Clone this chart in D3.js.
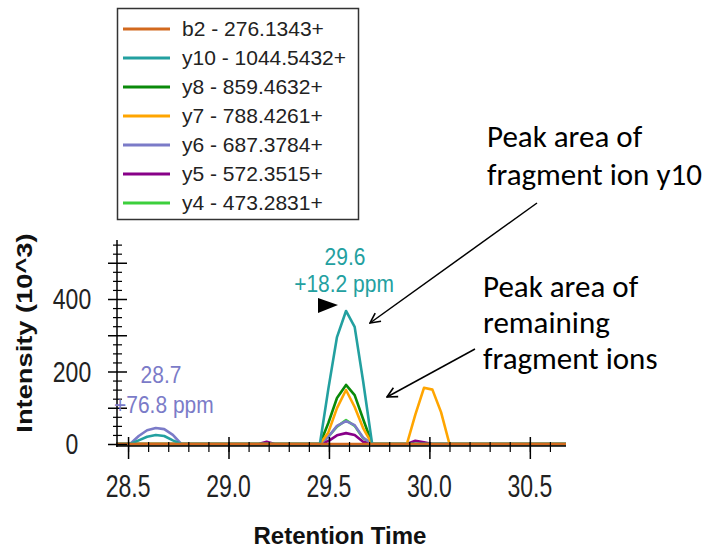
<!DOCTYPE html>
<html>
<head>
<meta charset="utf-8">
<script src="https://cdn.jsdelivr.net/npm/d3@7"></script>
<style>
  body { margin: 0; background: #fff; }
  text { font-family: "Liberation Sans", Arial, sans-serif; }
  .note { font-family: Carlito, Calibri, "Open Sans", sans-serif; }
</style>
</head>
<body>
<div id="chart"></div>
<script>
// Retention times (min) where the traces were sampled
const times = [28.44,
  28.51, 28.553, 28.595, 28.638, 28.68, 28.723, 28.765,
  29.15, 29.19, 29.23,
  29.455, 29.497, 29.54, 29.585, 29.628, 29.67, 29.715,
  29.888, 29.93, 29.973, 30.015, 30.058, 30.1,
  30.68];

// Intensities (10^3) for each fragment ion at those times
const b2  = [0, 0,0,0,0,0,0,0, 0,0,0, 0,0,0,0,0,0,0, 0,0,0,0,0,0, 0];
const y10 = [0, 0,10,20,25,22,10,0, 0,0,0, 0,152,295,367,323,174,0, 0,0,0,0,0,0, 0];
const y8  = [0, 0,0,0,0,0,0,0, 0,0,0, 0,58,127,163,135,69,0, 0,0,0,0,0,0, 0];
const y7  = [0, 0,0,0,0,0,0,0, 0,0,0, 0,32,99,149,102,44,0, 0,81,155,150,88,0, 0];
const y6  = [0, 0,22,38,44,41,25,0, 0,0,0, 0,20,50,63,52,18,0, 0,0,0,0,0,0, 0];
const y5  = [0, 0,0,0,0,0,0,0, 0,6,0, 0,8,24,30,25,6,0, 0,9,5,0,0,0, 0];
const y4  = [0, 0,0,0,0,0,0,0, 0,0,0, 0,20,48,66,50,16,0, 0,0,0,0,0,0, 0];

const ionLabels = ["b2 - 276.1343+", "y10 - 1044.5432+", "y8 - 859.4632+", "y7 - 788.4261+",
                   "y6 - 687.3784+", "y5 - 572.3515+", "y4 - 473.2831+"];
const ionValues = [b2, y10, y8, y7, y6, y5, y4];
const ionColors = ["#d2691e", "#23a0a0", "#0a8a0a", "#ffa500", "#7b7bc8", "#880088", "#3ccf3c"];
const drawOrder = [6, 5, 4, 2, 3, 1, 0];

const xMajor = [28.5, 29.0, 29.5, 30.0, 30.5];
const yLabels = [0, 200, 400];

const WIDTH = 711, HEIGHT = 549;

let svg = d3.select("#chart").append("svg")
    .attr("width", WIDTH)
    .attr("height", HEIGHT);

let x = d3.scaleLinear().domain([28.44, 30.68]).range([116, 566]);
let y = d3.scaleLinear().domain([0, 560]).range([444, 241]);

// arrow marker for the notes
svg.append("defs").append("marker")
    .attr("id", "arrow")
    .attr("viewBox", "0 0 12 12")
    .attr("refX", 11).attr("refY", 6)
    .attr("markerWidth", 12).attr("markerHeight", 12)
    .attr("markerUnits", "userSpaceOnUse")
    .attr("orient", "auto")
    .append("path")
    .attr("d", "M1,1 L11,6 L1,11")
    .attr("fill", "none")
    .attr("stroke", "#000")
    .attr("stroke-width", 1.6);

// traces
const line = d3.line()
    .x((d, i) => x(times[i]))
    .y(d => y(d));

svg.append("g").selectAll("path")
    .data(drawOrder)
    .enter()
    .append("path")
    .attr("d", i => line(ionValues[i]))
    .attr("fill", "none")
    .attr("stroke", i => ionColors[i])
    .attr("stroke-width", 2.6)
    .attr("stroke-linejoin", "round");

// x axis
const xAxisY = 446;
let gx = svg.append("g").attr("transform", `translate(0,${xAxisY})`);
gx.append("line")
    .attr("x1", 116).attr("x2", 566)
    .attr("stroke", "#000").attr("stroke-width", 1.5);

gx.call(d3.axisBottom(x)
        .tickValues(d3.range(28.5, 30.65, 0.1))
        .tickSize(6).tickFormat(""))
    .call(g => g.select(".domain").remove())
    .call(g => g.selectAll(".tick line").attr("y1", -4).attr("stroke-width", 1.2));

let gxMajor = svg.append("g").attr("transform", `translate(0,${xAxisY})`);
gxMajor.call(d3.axisBottom(x).tickValues(xMajor).tickSize(13).tickFormat(""))
    .call(g => g.select(".domain").remove())
    .call(g => g.selectAll(".tick line").attr("y1", -9).attr("stroke-width", 1.5));

svg.append("g").selectAll("text")
    .data(xMajor)
    .enter()
    .append("text")
    .attr("transform", d => `translate(${x(d)},497) scale(1,1.4)`)
    .attr("text-anchor", "middle")
    .attr("font-size", 23)
    .attr("fill", "#222")
    .text(d3.format(".1f"));

// y axis
const yAxisX = 117;
let gy = svg.append("g").attr("transform", `translate(${yAxisX},0)`);
gy.append("line")
    .attr("y1", 240).attr("y2", 447)
    .attr("stroke", "#000").attr("stroke-width", 1.5);

gy.call(d3.axisLeft(y)
        .tickValues(d3.range(0, 551, 25).filter(v => v % 100 !== 0))
        .tickSize(4).tickFormat(""))
    .call(g => g.select(".domain").remove())
    .call(g => g.selectAll(".tick line").attr("x1", 5).attr("stroke-width", 1.2));

let gyMajor = svg.append("g").attr("transform", `translate(${yAxisX},0)`);
gyMajor.call(d3.axisLeft(y).tickValues(d3.range(0, 501, 100)).tickSize(9).tickFormat(""))
    .call(g => g.select(".domain").remove())
    .call(g => g.selectAll(".tick line").attr("x1", 10).attr("stroke-width", 1.5));

svg.append("g").selectAll("text")
    .data(yLabels)
    .enter()
    .append("text")
    .attr("transform", d => `translate(72,${y(d) + 10}) scale(1,1.3)`)
    .attr("text-anchor", "middle")
    .attr("font-size", 23)
    .attr("fill", "#222")
    .text(d => d);

// axis titles
svg.append("text")
    .attr("transform", "translate(32,333) rotate(-90) scale(1.24,1)")
    .attr("text-anchor", "middle")
    .attr("font-size", 22)
    .attr("font-weight", "bold")
    .attr("fill", "#111")
    .text("Intensity (10^3)");

svg.append("text")
    .attr("x", 340).attr("y", 544)
    .attr("text-anchor", "middle")
    .attr("font-size", 24)
    .attr("font-weight", "bold")
    .attr("fill", "#111")
    .text("Retention Time");

// peak labels
svg.append("text")
    .attr("transform", "translate(345,265) scale(1,1.15)")
    .attr("text-anchor", "middle")
    .attr("font-size", 21)
    .attr("fill", ionColors[1])
    .text("29.6");
svg.append("text")
    .attr("transform", "translate(344,292) scale(1,1.15)")
    .attr("text-anchor", "middle")
    .attr("font-size", 21)
    .attr("fill", ionColors[1])
    .text("+18.2 ppm");

svg.append("text")
    .attr("transform", "translate(161,383) scale(1,1.15)")
    .attr("text-anchor", "middle")
    .attr("font-size", 21)
    .attr("fill", ionColors[4])
    .text("28.7");
svg.append("text")
    .attr("transform", "translate(114,413) scale(1,1.15)")
    .attr("text-anchor", "start")
    .attr("font-size", 21)
    .attr("fill", ionColors[4])
    .text("+76.8 ppm");

// the apex marker
svg.append("path")
    .attr("d", "M318,298 L338,305 L318,313 Z")
    .attr("fill", "#000");

// legend
let legend = svg.append("g");
legend.append("rect")
    .attr("x", 117.5).attr("y", 8.5)
    .attr("width", 241).attr("height", 211)
    .attr("fill", "#fff")
    .attr("stroke", "#333")
    .attr("stroke-width", 1.5);

let items = legend.selectAll(".item")
    .data(ionLabels)
    .enter()
    .append("g")
    .attr("class", "item")
    .attr("transform", (d, i) => `translate(0,${29 + i * 29})`);

items.append("line")
    .attr("x1", 123).attr("x2", 170)
    .attr("stroke", (d, i) => ionColors[i])
    .attr("stroke-width", 3);

items.append("text")
    .attr("x", 182).attr("y", 7)
    .attr("font-size", 21)
    .attr("fill", "#222")
    .text(d => d);

// notes with arrows
const notes = [
    { lines: ["Peak area of", "fragment ion y10"], x: 487, y: 147, step: 38 },
    { lines: ["Peak area of", "remaining", "fragment ions"], x: 483, y: 297, step: 36 }
];
notes.forEach(n => {
    let t = svg.append("text")
        .attr("class", "note")
        .attr("font-size", 31)
        .attr("fill", "#000");
    n.lines.forEach((s, i) => {
        t.append("tspan").attr("x", n.x).attr("y", n.y + i * n.step).text(s);
    });
});

svg.append("line")
    .attr("x1", 537).attr("y1", 203).attr("x2", 370).attr("y2", 323)
    .attr("stroke", "#000").attr("stroke-width", 1.5)
    .attr("marker-end", "url(#arrow)");
svg.append("line")
    .attr("x1", 475).attr("y1", 349).attr("x2", 387).attr("y2", 397)
    .attr("stroke", "#000").attr("stroke-width", 1.5)
    .attr("marker-end", "url(#arrow)");
</script>
</body>
</html>
